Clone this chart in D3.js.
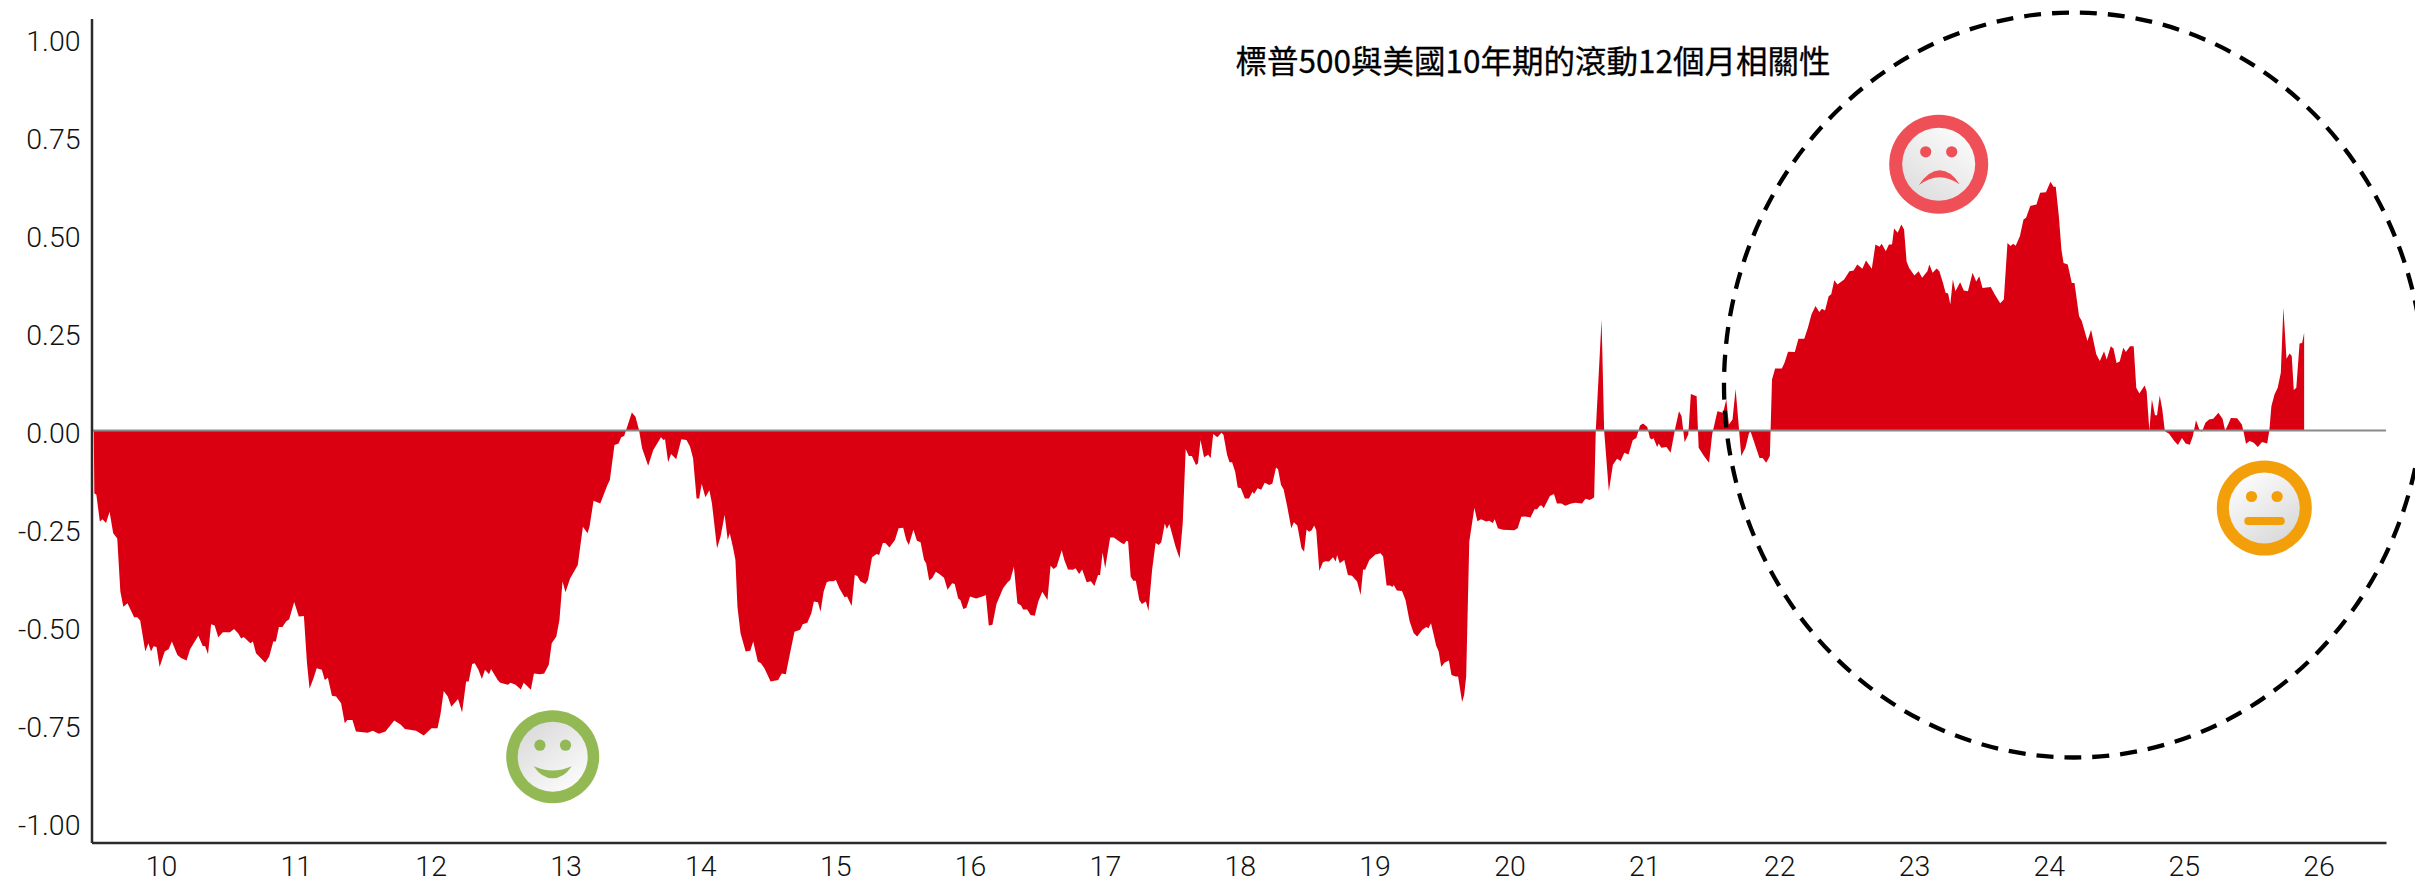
<!DOCTYPE html>
<html><head><meta charset="utf-8">
<script src="https://cdn.jsdelivr.net/npm/d3@7/dist/d3.min.js"></script>
<style>html,body{margin:0;padding:0;background:#fff;overflow:hidden}svg{display:block}</style>
</head><body><svg id="c" width="2415" height="882"></svg>
<script>
const chartTitle = "標普500與美國10年期的滾動12個月相關性";
const yTicks = [1, 0.75, 0.5, 0.25, 0, -0.25, -0.5, -0.75, -1];
const xTicks = [10,11,12,13,14,15,16,17,18,19,20,21,22,23,24,25,26];
const corr2010to2014 = [[9.502,0],[9.506,-.16],[9.521,-.164],[9.547,-.232],[9.566,-.226],[9.593,-.236],[9.619,-.207],[9.646,-.262],[9.676,-.275],[9.699,-.41],[9.721,-.449],[9.752,-.44],[9.801,-.476],[9.824,-.476],[9.846,-.484],[9.884,-.563],[9.907,-.542],[9.926,-.563],[9.945,-.55],[9.967,-.552],[9.99,-.603],[10.028,-.563],[10.058,-.557],[10.081,-.538],[10.122,-.572],[10.149,-.58],[10.19,-.586],[10.217,-.557],[10.277,-.523],[10.311,-.55],[10.327,-.549],[10.349,-.57],[10.372,-.494],[10.398,-.497],[10.425,-.527],[10.459,-.514],[10.512,-.514],[10.542,-.506],[10.572,-.517],[10.595,-.53],[10.614,-.526],[10.663,-.542],[10.682,-.538],[10.705,-.568],[10.739,-.58],[10.773,-.592],[10.803,-.576],[10.833,-.538],[10.852,-.538],[10.875,-.501],[10.901,-.501],[10.928,-.487],[10.951,-.481],[10.988,-.437],[11.022,-.474],[11.06,-.473],[11.083,-.593],[11.102,-.658],[11.132,-.631],[11.155,-.606],[11.193,-.61],[11.215,-.636],[11.238,-.63],[11.268,-.676],[11.299,-.678],[11.336,-.695],[11.363,-.746],[11.382,-.738],[11.42,-.738],[11.446,-.767],[11.533,-.77],[11.571,-.765],[11.616,-.773],[11.665,-.767],[11.73,-.739],[11.779,-.75],[11.809,-.761],[11.892,-.765],[11.949,-.777],[12.006,-.759],[12.051,-.759],[12.074,-.721],[12.097,-.664],[12.127,-.678],[12.153,-.704],[12.203,-.684],[12.233,-.719],[12.263,-.64],[12.282,-.64],[12.308,-.595],[12.327,-.593],[12.354,-.61],[12.38,-.633],[12.403,-.61],[12.433,-.621],[12.448,-.608],[12.497,-.636],[12.516,-.643],[12.573,-.648],[12.592,-.643],[12.63,-.648],[12.668,-.66],[12.69,-.643],[12.743,-.661],[12.766,-.619],[12.811,-.621],[12.842,-.619],[12.876,-.597],[12.898,-.542],[12.932,-.525],[12.955,-.483],[12.978,-.385],[13.0,-.412],[13.034,-.377],[13.091,-.343],[13.129,-.245],[13.163,-.262],[13.178,-.245],[13.208,-.179],[13.258,-.186],[13.311,-.139],[13.329,-.126],[13.363,-.037],[13.394,-.033],[13.413,-.017],[13.435,-.014],[13.492,.046],[13.519,.035],[13.545,.001],[13.568,-.045],[13.613,-.09],[13.651,-.05],[13.708,-.017],[13.727,-.024],[13.738,-.022],[13.761,-.081],[13.783,-.06],[13.821,-.073],[13.859,-.022],[13.897,-.024],[13.923,-.041],[13.946,-.071],[13.972,-.173],[13.991,-.173],[14.01,-.136],[14.037,-.17],[14.067,-.152],[14.086,-.186],[14.124,-.3],[14.15,-.27],[14.18,-.215],[14.203,-.279],[14.218,-.262],[14.241,-.296],[14.26,-.33],[14.275,-.449],[14.298,-.517],[14.336,-.563],[14.37,-.561],[14.392,-.538],[14.426,-.589],[14.449,-.593],[14.475,-.606],[14.521,-.64],[14.577,-.636],[14.604,-.619],[14.634,-.621],[14.665,-.568],[14.698,-.513],[14.74,-.508]];
const corr2015to2020 = [[14.759,-.494],[14.793,-.49],[14.823,-.466],[14.842,-.436],[14.872,-.438],[14.891,-.462],[14.914,-.411],[14.937,-.387],[14.956,-.384],[14.986,-.384],[15.005,-.381],[15.031,-.402],[15.069,-.425],[15.088,-.423],[15.122,-.447],[15.145,-.368],[15.164,-.371],[15.186,-.384],[15.224,-.391],[15.243,-.381],[15.273,-.323],[15.307,-.315],[15.326,-.317],[15.353,-.287],[15.372,-.287],[15.402,-.298],[15.443,-.279],[15.47,-.249],[15.504,-.248],[15.527,-.279],[15.546,-.292],[15.58,-.253],[15.606,-.281],[15.633,-.285],[15.659,-.33],[15.674,-.338],[15.697,-.382],[15.72,-.376],[15.746,-.36],[15.772,-.366],[15.807,-.375],[15.833,-.406],[15.867,-.389],[15.886,-.391],[15.912,-.428],[15.928,-.432],[15.95,-.455],[15.973,-.452],[16.0,-.423],[16.045,-.428],[16.102,-.422],[16.117,-.419],[16.139,-.497],[16.166,-.495],[16.196,-.442],[16.245,-.402],[16.279,-.387],[16.298,-.381],[16.325,-.347],[16.351,-.44],[16.378,-.446],[16.393,-.456],[16.423,-.456],[16.449,-.47],[16.48,-.472],[16.506,-.436],[16.536,-.411],[16.574,-.432],[16.597,-.345],[16.62,-.353],[16.642,-.347],[16.68,-.305],[16.699,-.33],[16.726,-.354],[16.763,-.355],[16.782,-.351],[16.809,-.366],[16.831,-.354],[16.865,-.387],[16.896,-.384],[16.922,-.396],[16.949,-.368],[16.964,-.368],[16.983,-.311],[17.002,-.351],[17.039,-.273],[17.066,-.273],[17.123,-.287],[17.142,-.29],[17.16,-.281],[17.172,-.283],[17.191,-.372],[17.21,-.383],[17.229,-.383],[17.255,-.432],[17.274,-.442],[17.304,-.436],[17.323,-.46],[17.35,-.355],[17.376,-.287],[17.399,-.292],[17.418,-.285],[17.444,-.237],[17.459,-.251],[17.478,-.238],[17.524,-.296],[17.554,-.326],[17.577,-.237],[17.599,-.047],[17.622,-.065],[17.645,-.065],[17.675,-.088],[17.69,-.084],[17.709,-.024],[17.735,-.068],[17.766,-.062],[17.784,-.071],[17.803,-.009],[17.834,-.017],[17.864,-.006],[17.879,-.011],[17.906,-.062],[17.924,-.081],[17.943,-.081],[17.966,-.105],[17.985,-.145],[18.008,-.147],[18.038,-.173],[18.068,-.173],[18.095,-.156],[18.106,-.162],[18.132,-.147],[18.159,-.151],[18.185,-.133],[18.219,-.139],[18.242,-.135],[18.269,-.094],[18.284,-.099],[18.306,-.139],[18.325,-.15],[18.352,-.194],[18.382,-.249],[18.401,-.234],[18.427,-.242],[18.458,-.3],[18.477,-.309],[18.495,-.252],[18.514,-.258],[18.533,-.254],[18.552,-.242],[18.567,-.254],[18.59,-.358],[18.617,-.336],[18.635,-.333],[18.662,-.334],[18.692,-.323],[18.711,-.334],[18.722,-.317],[18.741,-.338],[18.775,-.33],[18.802,-.368],[18.832,-.37],[18.87,-.385],[18.896,-.419],[18.915,-.354],[18.93,-.355],[18.961,-.33],[19.006,-.316],[19.044,-.313],[19.063,-.321],[19.089,-.395],[19.116,-.395],[19.131,-.399],[19.142,-.394],[19.165,-.408],[19.203,-.409],[19.229,-.432],[19.26,-.487],[19.29,-.517],[19.316,-.525],[19.354,-.508],[19.384,-.501],[19.399,-.504],[19.418,-.491],[19.441,-.525],[19.456,-.548],[19.475,-.563],[19.494,-.602],[19.52,-.591],[19.551,-.586],[19.57,-.623],[19.6,-.627],[19.619,-.627],[19.649,-.692],[19.664,-.674],[19.679,-.627],[19.702,-.283],[19.74,-.197],[19.762,-.231],[19.789,-.226],[19.827,-.232],[19.849,-.23],[19.876,-.236],[19.891,-.226],[19.914,-.249],[19.952,-.253],[20.035,-.254],[20.061,-.249],[20.088,-.22],[20.118,-.219],[20.156,-.222],[20.186,-.201],[20.205,-.201],[20.224,-.192],[20.239,-.191],[20.254,-.198],[20.3,-.167],[20.33,-.162],[20.352,-.186],[20.386,-.186],[20.413,-.192],[20.458,-.186],[20.489,-.184],[20.538,-.186],[20.564,-.174],[20.595,-.177],[20.613,-.174],[20.628,-.17],[20.64,0]];
const corr2021to2026 = [[20.683,.283],[20.702,0],[20.737,-.155],[20.767,-.087],[20.798,-.072],[20.825,-.078],[20.852,-.057],[20.883,-.061],[20.914,-.025],[20.941,-.019],[20.968,.013],[20.991,.018],[21.022,.009],[21.041,-.019],[21.056,-.023],[21.068,-.019],[21.095,-.042],[21.107,-.033],[21.126,-.044],[21.164,-.042],[21.195,-.057],[21.23,.007],[21.257,.049],[21.276,.037],[21.299,-.03],[21.326,-.01],[21.345,.093],[21.388,.087],[21.403,-.044],[21.442,-.065],[21.48,-.082],[21.503,-.01],[21.542,.049],[21.584,.045],[21.608,.079],[21.627,.015],[21.654,.028],[21.677,.106],[21.719,-.065],[21.75,-.044],[21.777,-.006],[21.789,-.004],[21.816,-.031],[21.854,-.07],[21.877,-.07],[21.904,-.082],[21.931,-.065],[21.947,.13],[21.97,.158],[22.02,.158],[22.039,.172],[22.066,.201],[22.116,.2],[22.143,.234],[22.186,.234],[22.213,.262],[22.24,.296],[22.27,.317],[22.297,.302],[22.317,.31],[22.34,.306],[22.367,.342],[22.386,.347],[22.409,.383],[22.432,.372],[22.482,.385],[22.521,.406],[22.552,.408],[22.579,.423],[22.617,.412],[22.644,.433],[22.687,.412],[22.714,.474],[22.744,.468],[22.76,.476],[22.791,.457],[22.814,.474],[22.837,.474],[22.852,.515],[22.879,.504],[22.906,.525],[22.926,.512],[22.945,.431],[22.964,.414],[23.003,.395],[23.034,.406],[23.06,.389],[23.099,.406],[23.114,.423],[23.138,.402],[23.168,.413],[23.188,.406],[23.215,.376],[23.234,.351],[23.253,.349],[23.269,.321],[23.288,.385],[23.307,.355],[23.342,.378],[23.369,.357],[23.4,.355],[23.434,.402],[23.461,.38],[23.484,.393],[23.508,.363],[23.569,.366],[23.6,.346],[23.639,.324],[23.666,.334],[23.693,.478],[23.716,.47],[23.735,.476],[23.754,.471],[23.785,.495],[23.812,.538],[23.831,.542],[23.862,.572],[23.908,.576],[23.935,.606],[23.978,.607],[24.012,.634],[24.035,.621],[24.051,.621],[24.074,.546],[24.093,.461],[24.109,.427],[24.14,.423],[24.17,.376],[24.19,.376],[24.224,.291],[24.244,.279],[24.286,.228],[24.313,.257],[24.352,.194],[24.378,.177],[24.409,.202],[24.429,.181],[24.459,.215],[24.479,.209],[24.502,.172],[24.525,.176],[24.552,.211],[24.571,.2],[24.602,.215],[24.629,.215],[24.648,.109],[24.671,.094],[24.71,.115],[24.725,.1],[24.745,0],[24.764,.079],[24.787,.039],[24.802,.039],[24.822,.089],[24.841,.054],[24.86,-.002],[24.891,-.008],[24.93,-.027],[24.957,-.037],[24.987,-.019],[25.014,-.033],[25.045,-.036],[25.068,-.014],[25.091,.026],[25.115,.003],[25.134,-.004],[25.161,.02],[25.188,.028],[25.219,.03],[25.257,.045],[25.288,.03],[25.307,0],[25.323,.011],[25.35,.032],[25.396,.031],[25.431,.015],[25.442,0],[25.462,-.034],[25.489,-.027],[25.519,-.031],[25.55,-.042],[25.581,-.029],[25.619,-.033],[25.635,0],[25.65,.062],[25.673,.092],[25.697,.109],[25.72,.147],[25.739,.313],[25.762,.183],[25.785,.196],[25.801,.19],[25.816,.103],[25.835,.109],[25.859,.222],[25.878,.223],[25.893,.249]];

const series = [...corr2010to2014, ...corr2015to2020, ...corr2021to2026];
const svg = d3.select("#c");
const x = d3.scaleLinear().domain([9.485, 26.5]).range([91.5, 2386]);
const y = d3.scaleLinear().domain([-1.05, 1.05]).range([842.5, 18.5]);
const axisFont = "Roboto, 'Liberation Sans', sans-serif";

const area = d3.area().x(d => x(d[0])).y0(y(0)).y1(d => y(d[1]));
svg.append("path").datum(series).attr("d", area).attr("fill", "#da0011");

svg.append("line").attr("x1", x.range()[0]).attr("x2", x.range()[1]).attr("y1", y(0)).attr("y2", y(0))
  .attr("stroke", "#8a8a8a").attr("stroke-width", 2);

const yAxis = d3.axisLeft(y).tickValues(yTicks).tickSize(0).tickPadding(11).tickFormat(d => d.toFixed(2));
const xAxis = d3.axisBottom(x).tickValues(xTicks).tickSize(0).tickPadding(13).tickFormat(d => String(d));
const gy = svg.append("g").attr("transform", "translate(91.5,0)").call(yAxis);
const gx = svg.append("g").attr("transform", "translate(0,842.5)").call(xAxis);
[gy, gx].forEach(g => {
  g.select(".domain").attr("stroke", "#2b2b2b").attr("stroke-width", 2.5);
  g.selectAll("text").attr("font-family", axisFont).attr("font-weight", 300).attr("font-size", 28.5).attr("fill", "#111");
});
gy.selectAll("text").attr("dy", "0.42em");

svg.append("text").attr("x", 1533).attr("y", 73).attr("text-anchor", "middle")
  .attr("font-family", "'Noto Sans CJK TC', 'Noto Sans', sans-serif").attr("font-size", 31.5).attr("fill", "#000")
  .attr("stroke", "#000").attr("stroke-width", 0.3)
  .text(chartTitle);

svg.append("ellipse").attr("cx", 2074).attr("cy", 385).attr("rx", 350).attr("ry", 372.5)
  .attr("fill", "none").attr("stroke", "#000").attr("stroke-width", 4.3).attr("stroke-dasharray", "17 11");

const defs = svg.append("defs");
function grad(id, x1, y1, x2, y2, a, b) {
  const g = defs.append("linearGradient").attr("id", id).attr("x1", x1).attr("y1", y1).attr("x2", x2).attr("y2", y2);
  g.append("stop").attr("offset", "0%").attr("stop-color", a);
  g.append("stop").attr("offset", "100%").attr("stop-color", b);
}
grad("gGreen", 0.2, 0.1, 0.8, 0.9, "#dcdcdc", "#fafafa");
grad("gRed", 0.8, 0.05, 0.2, 0.95, "#fbfbfb", "#dedede");
grad("gOrange", 0.2, 0.1, 0.8, 0.95, "#fbfbfb", "#d9d9d9");
function face(cx, cy, R, r, col, gid, ex, ey, mouth) {
  const f = svg.append("g").attr("transform", `translate(${cx},${cy})`);
  f.append("circle").attr("r", R).attr("fill", col);
  f.append("circle").attr("r", r).attr("fill", `url(#${gid})`);
  f.append("circle").attr("cx", -ex).attr("cy", ey).attr("r", 5.6).attr("fill", col);
  f.append("circle").attr("cx", ex).attr("cy", ey).attr("r", 5.6).attr("fill", col);
  mouth(f, col);
}
face(552.7, 756.7, 46.5, 35, "#93b955", "gGreen", 12.8, -11.5, (f, c) =>
  f.append("path").attr("fill", c).attr("d", "M-19,9.5 Q0,18 19,9.5 Q11,21.5 0,21.5 Q-11,21.5 -19,9.5Z"));
face(1938.7, 164.3, 49.5, 36.5, "#ef5057", "gRed", 13, -12.5, (f, c) =>
  f.append("path").attr("fill", c).attr("d", "M-20,21 Q-10,6 1,6 Q12,6 21,20 Q10,13 1,13 Q-9,13 -20,21Z"));
face(2264.3, 508, 47.5, 35.5, "#f39f0a", "gOrange", 12.8, -11.5, (f) =>
  f.append("rect").attr("x", -20).attr("y", 9).attr("width", 40.5).attr("height", 8).attr("rx", 4).attr("fill", "#f39f0a"));
</script></body></html>
